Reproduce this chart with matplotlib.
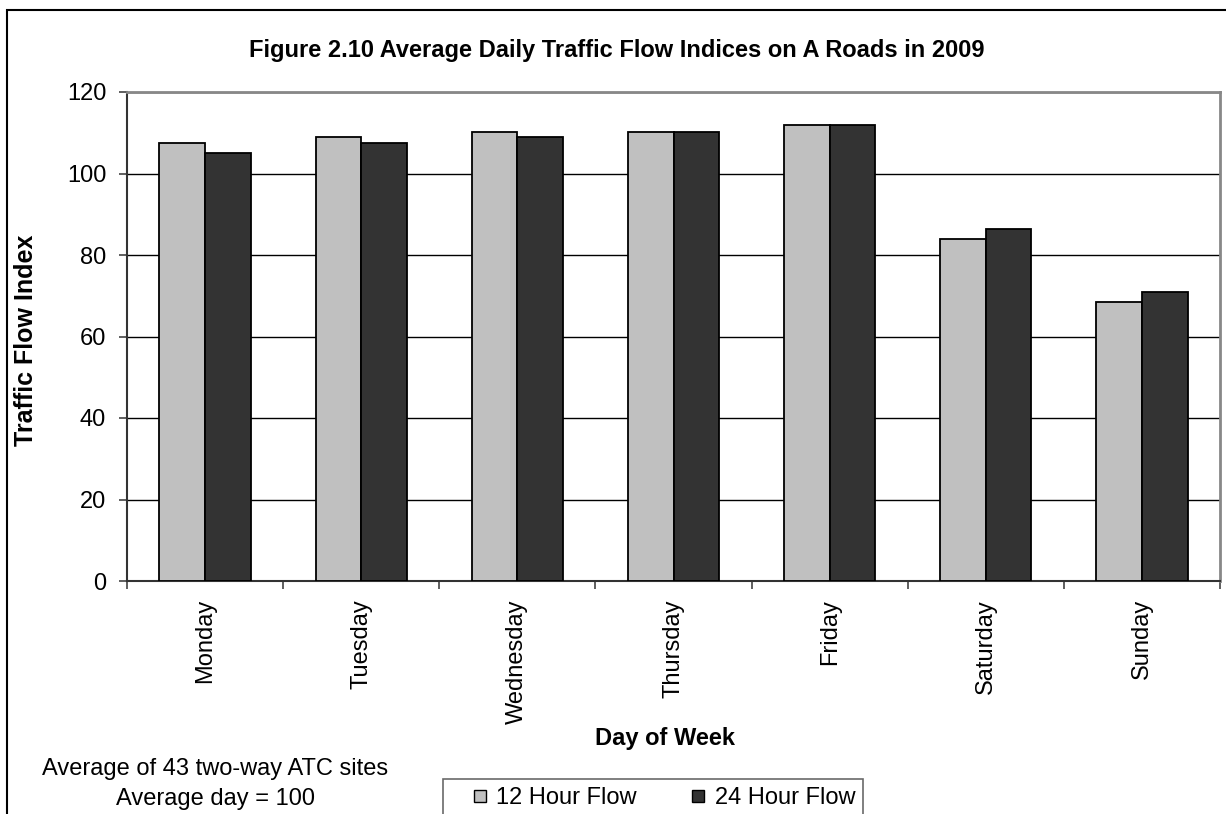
import matplotlib
matplotlib.use("Agg")
import matplotlib.pyplot as plt
from matplotlib.patches import Rectangle
from matplotlib.lines import Line2D
import numpy as np

days = ["Monday", "Tuesday", "Wednesday", "Thursday", "Friday", "Saturday", "Sunday"]
flow_12h = [107.4, 108.9, 110.3, 110.3, 111.8, 84.0, 68.4]
flow_24h = [105.0, 107.4, 108.9, 110.3, 111.8, 86.4, 70.8]
series_labels = ["12 Hour Flow", "24 Hour Flow"]
series_colors = ["#C0C0C0", "#333333"]
y_ticks = [0, 20, 40, 60, 80, 100, 120]

plt.rcParams["font.family"] = ["Liberation Sans", "DejaVu Sans"]

W, H = 1226, 814
fig = plt.figure(figsize=(W / 100, H / 100), dpi=100)
fig.patch.set_facecolor("white")

# outer chart frame (cut off at right/bottom like the original)
fig.add_artist(Rectangle((7 / W, -0.05), 1.2, 1 - 10 / H + 0.05,
                         transform=fig.transFigure, fill=False,
                         edgecolor="black", linewidth=1.5))

ax = fig.add_axes([127 / W, 1 - 581 / H, (1220 - 127) / W, (581 - 92) / H])

x = np.arange(len(days))
bw = 0.292
ax.bar(x - bw / 2, flow_12h, bw, color=series_colors[0], edgecolor="black",
       linewidth=1.3, zorder=3)
ax.bar(x + bw / 2, flow_24h, bw, color=series_colors[1], edgecolor="black",
       linewidth=1.3, zorder=3)

ax.set_xlim(-0.5, len(days) - 0.5)
ax.set_ylim(0, 120)
ax.set_yticks(y_ticks)
ax.yaxis.grid(True, color="black", linewidth=1.0, zorder=0)
ax.set_axisbelow(True)

ax.set_xticks(x)
ax.set_xticklabels(days, rotation=90, fontsize=17)
ax.set_xticks(np.arange(-0.5, len(days)), minor=True)
ax.tick_params(axis="x", which="major", length=0, pad=13)
ax.tick_params(axis="x", which="minor", length=6, width=1.2, color="#444444")
ax.tick_params(axis="y", length=6, width=1.2, color="#444444", labelsize=17, pad=9)

for side in ["left", "bottom"]:
    ax.spines[side].set_color("#333333")
    ax.spines[side].set_linewidth(1.5)
for side in ["top", "right"]:
    ax.spines[side].set_color("#888888")
    ax.spines[side].set_linewidth(2)

fig.text(617 / W, 1 - 50 / H, "Figure 2.10 Average Daily Traffic Flow Indices on A Roads in 2009",
         ha="center", va="center", fontsize=17, fontweight="bold")
fig.text(26 / W, 1 - 340 / H, "Traffic Flow Index", rotation=90,
         ha="center", va="center", fontsize=18, fontweight="bold")
fig.text(665 / W, 1 - 739 / H, "Day of Week", ha="center", va="center",
         fontsize=17, fontweight="bold")
fig.text(215 / W, 1 - 769 / H, "Average of 43 two-way ATC sites",
         ha="center", va="center", fontsize=17)
fig.text(215 / W, 1 - 799 / H, "Average day = 100",
         ha="center", va="center", fontsize=17)

handles = [Line2D([], [], linestyle="none", marker="s", markersize=9,
                  markerfacecolor=c, markeredgecolor="black", markeredgewidth=1)
           for c in series_colors]
leg = fig.legend(handles, series_labels, loc="upper left",
                 bbox_to_anchor=(443 / W, 1 - 779 / H), ncol=2, fontsize=17,
                 frameon=True, fancybox=False, numpoints=1,
                 handlelength=2.4, handletextpad=-0.5, columnspacing=1.4,
                 borderpad=0.35, borderaxespad=0)
leg.get_frame().set_edgecolor("#444444")
leg.get_frame().set_linewidth(1.2)

fig.savefig("out.png", dpi=100)
